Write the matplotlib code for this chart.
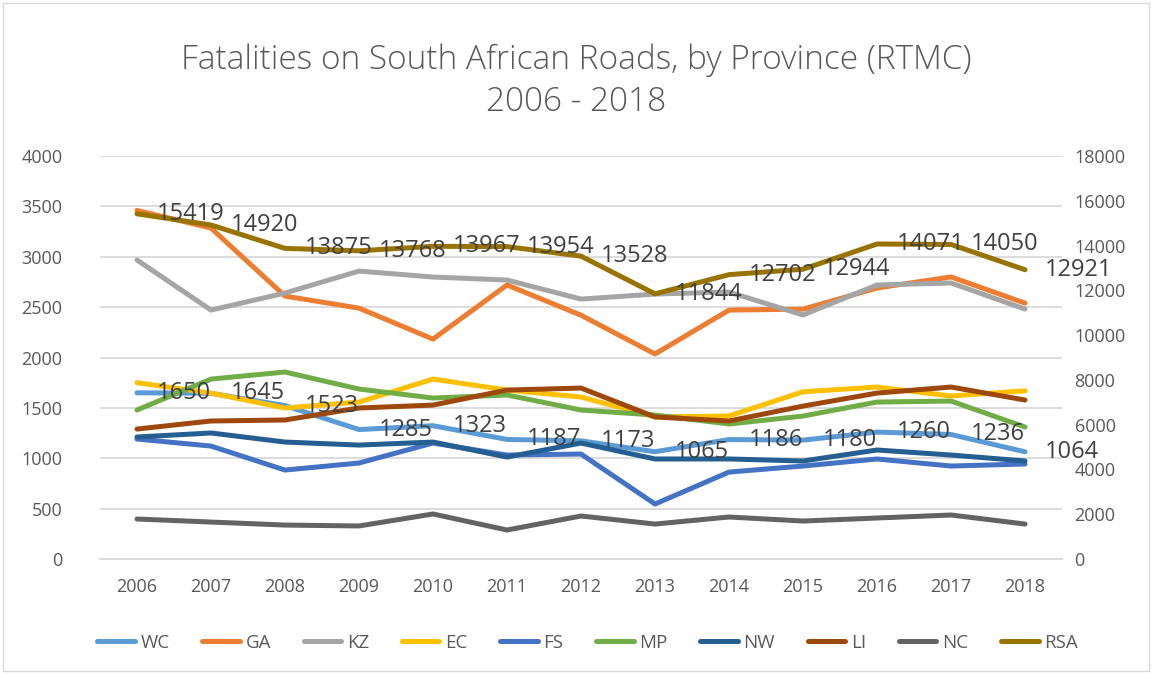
"""
Road fatalities by province (RTMC), 2006 - 2018
===============================================
Provinces on the left axis, national total (RSA) on the secondary axis.
"""

import matplotlib
matplotlib.use("Agg")
import matplotlib.pyplot as plt
from matplotlib.patches import Rectangle

plt.rcParams["font.family"] = ["Open Sans", "DejaVu Sans"]

years = ["2006", "2007", "2008", "2009", "2010", "2011", "2012",
         "2013", "2014", "2015", "2016", "2017", "2018"]

wc = [1650, 1645, 1523, 1285, 1323, 1187, 1173, 1065, 1186, 1180, 1260, 1236, 1064]
ga = [3460, 3285, 2610, 2490, 2183, 2720, 2420, 2035, 2471, 2480, 2690, 2800, 2540]
kz = [2968, 2471, 2640, 2858, 2799, 2769, 2580, 2630, 2650, 2422, 2720, 2740, 2481]
ec = [1750, 1647, 1499, 1558, 1786, 1677, 1608, 1410, 1420, 1660, 1707, 1618, 1670]
fs = [1191, 1121, 883, 953, 1151, 1032, 1042, 546, 863, 923, 993, 923, 943]
mp = [1479, 1786, 1856, 1687, 1598, 1628, 1479, 1429, 1340, 1419, 1558, 1568, 1310]
nw = [1211, 1251, 1161, 1131, 1161, 1012, 1151, 993, 993, 973, 1082, 1032, 973]
li = [1290, 1370, 1380, 1499, 1528, 1677, 1697, 1410, 1370, 1518, 1647, 1707, 1578]
nc = [397, 367, 337, 328, 447, 288, 427, 347, 417, 377, 407, 437, 347]
rsa = [15419, 14920, 13875, 13768, 13967, 13954, 13528,
       11844, 12702, 12944, 14071, 14050, 12921]

province_names = ["WC", "GA", "KZ", "EC", "FS", "MP", "NW", "LI", "NC"]
province_values = [wc, ga, kz, ec, fs, mp, nw, li, nc]
province_colors = ["#5B9BD5", "#ED7D31", "#A5A5A5", "#FFC000", "#4472C4",
                   "#70AD47", "#255E91", "#9E480E", "#636363"]
rsa_color = "#997300"

TEXT = "#595959"
LABEL = "#404040"
GRID = "#D9D9D9"
LW = 3.6


def add_labels(ax, xs, values, texts):
    """Excel-style data labels to the right of each point."""
    for x, v, t in zip(xs, values, texts):
        ax.annotate(str(t), (x, v), xytext=(14, 0), textcoords="offset points",
                    ha="left", va="center", fontsize=17, color=LABEL, zorder=10)


def main():
    fig = plt.figure(figsize=(11.52, 6.74), dpi=100)
    fig.patches.append(Rectangle((0.003, 0.004), 0.994, 0.992, transform=fig.transFigure,
                                 fill=False, edgecolor=GRID, linewidth=1.0))

    ax = fig.add_axes([0.0868, 0.1706, 0.8351, 0.5979])
    ax2 = ax.twinx()
    xs = list(range(len(years)))

    handles = []
    for name, vals, col in zip(province_names, province_values, province_colors):
        h, = ax.plot(xs, vals, color=col, lw=LW, solid_capstyle="round",
                     solid_joinstyle="round", label=name)
        handles.append(h)
    h, = ax2.plot(xs, rsa, color=rsa_color, lw=LW, solid_capstyle="round",
                  solid_joinstyle="round", label="RSA")
    handles.append(h)

    # labels live on the top axes so they sit above every line
    add_labels(ax2, xs, rsa, rsa)
    add_labels(ax2, xs, [v * 18000 / 4000 for v in wc], wc)

    ax.set_xlim(-0.5, len(years) - 0.5)
    ax.set_ylim(0, 4000)
    ax.set_yticks(range(0, 4001, 500))
    ax2.set_ylim(0, 18000)
    ax2.set_yticks(range(0, 18001, 2000))
    ax.set_xticks(xs)
    ax.set_xticklabels(years)

    ax.grid(axis="y", color=GRID, lw=1.3)
    ax.set_axisbelow(True)
    for a in (ax, ax2):
        for s in a.spines.values():
            s.set_visible(False)
    ax.spines["bottom"].set_visible(True)
    ax.spines["bottom"].set_color(GRID)
    ax.spines["bottom"].set_linewidth(1.3)

    ax.tick_params(axis="y", length=0, pad=27, labelsize=13, labelcolor=TEXT)
    ax.tick_params(axis="x", length=0, pad=14, labelsize=13, labelcolor=TEXT)
    ax2.tick_params(axis="y", length=0, pad=9, labelsize=13, labelcolor=TEXT)

    fig.text(0.5, 0.91, "Fatalities on South African Roads, by Province (RTMC)",
             ha="center", va="center", fontsize=24, color=TEXT, fontweight="light")
    fig.text(0.5, 0.849, "2006 - 2018",
             ha="center", va="center", fontsize=24, color=TEXT, fontweight="light")

    fig.legend(handles=handles, loc="center", bbox_to_anchor=(0.51, 0.046), ncol=10,
               frameon=False, fontsize=13.5, labelcolor=TEXT, handlelength=2.0,
               handletextpad=0.3, columnspacing=1.75)

    fig.savefig("out.png", dpi=100)


if __name__ == "__main__":
    main()
